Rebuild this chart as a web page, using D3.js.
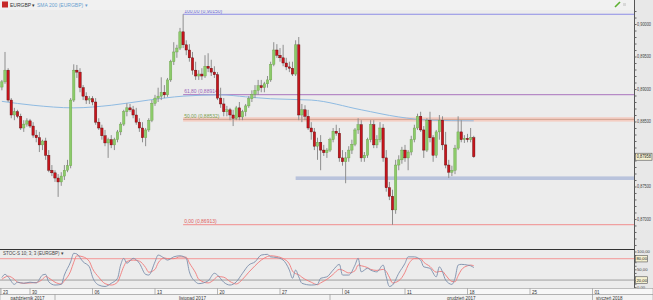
<!DOCTYPE html>
<html>
<head>
<meta charset="utf-8">
<script src="https://cdn.jsdelivr.net/npm/d3@7"></script>
<style>
body { margin: 0; background: #ececec; }
svg { display: block; font-family: "Liberation Sans", Arial, sans-serif; }
</style>
</head>
<body>
<div class="container"></div>
<script>
// EURGBP candles [open, high, low, close]
const candles = [
  [0.8903,0.8914,0.8898,0.8911],[0.8911,0.8957,0.8908,0.8929],[0.8929,0.8932,0.8880,0.8883],[0.8883,0.8886,0.8855,0.8860],
  [0.8860,0.8871,0.8852,0.8865],[0.8865,0.8868,0.8855,0.8858],[0.8858,0.8862,0.8837,0.8840],[0.8840,0.8852,0.8834,0.8846],
  [0.8846,0.8855,0.8842,0.8851],[0.8851,0.8854,0.8840,0.8843],[0.8843,0.8849,0.8825,0.8829],[0.8829,0.8837,0.8818,0.8825],
  [0.8825,0.8834,0.8803,0.8814],[0.8814,0.8822,0.8806,0.8820],[0.8820,0.8825,0.8791,0.8798],[0.8798,0.8806,0.8772,0.8775],
  [0.8775,0.8783,0.8766,0.8771],[0.8771,0.8775,0.8757,0.8763],[0.8763,0.8769,0.8734,0.8757],[0.8757,0.8772,0.8751,0.8766],
  [0.8766,0.8783,0.8760,0.8775],[0.8775,0.8791,0.8772,0.8782],[0.8782,0.8886,0.8778,0.8883],[0.8883,0.8938,0.8880,0.8929],
  [0.8929,0.8937,0.8917,0.8926],[0.8926,0.8932,0.8895,0.8902],[0.8902,0.8906,0.8883,0.8889],[0.8889,0.8895,0.8877,0.8883],
  [0.8883,0.8889,0.8877,0.8885],[0.8885,0.8889,0.8875,0.8880],[0.8880,0.8886,0.8845,0.8849],[0.8849,0.8855,0.8837,0.8840],
  [0.8840,0.8845,0.8822,0.8828],[0.8828,0.8837,0.8812,0.8817],[0.8817,0.8825,0.8794,0.8822],[0.8822,0.8829,0.8809,0.8814],
  [0.8814,0.8825,0.8806,0.8822],[0.8822,0.8837,0.8818,0.8834],[0.8834,0.8849,0.8829,0.8846],[0.8846,0.8868,0.8843,0.8865],
  [0.8865,0.8878,0.8858,0.8871],[0.8871,0.8877,0.8865,0.8868],[0.8868,0.8874,0.8855,0.8860],[0.8860,0.8871,0.8845,0.8849],
  [0.8849,0.8855,0.8834,0.8840],[0.8840,0.8849,0.8818,0.8825],[0.8825,0.8840,0.8812,0.8837],[0.8837,0.8855,0.8834,0.8852],
  [0.8852,0.8883,0.8849,0.8878],[0.8878,0.8891,0.8874,0.8886],[0.8886,0.8902,0.8880,0.8889],[0.8889,0.8918,0.8883,0.8895],
  [0.8895,0.8906,0.8886,0.8891],[0.8891,0.8917,0.8888,0.8914],[0.8914,0.8945,0.8911,0.8942],[0.8942,0.8972,0.8937,0.8957],
  [0.8957,0.8968,0.8948,0.8963],[0.8963,0.8994,0.8960,0.8988],[0.8988,0.9015,0.8963,0.8968],[0.8968,0.8975,0.8952,0.8960],
  [0.8960,0.8969,0.8942,0.8948],[0.8948,0.8957,0.8922,0.8929],[0.8929,0.8942,0.8914,0.8920],[0.8920,0.8929,0.8914,0.8923],
  [0.8923,0.8932,0.8914,0.8920],[0.8920,0.8952,0.8917,0.8935],[0.8935,0.8955,0.8926,0.8932],[0.8932,0.8945,0.8920,0.8926],
  [0.8926,0.8935,0.8917,0.8922],[0.8922,0.8926,0.8883,0.8886],[0.8886,0.8902,0.8871,0.8877],[0.8877,0.8886,0.8858,0.8865],
  [0.8865,0.8874,0.8858,0.8868],[0.8868,0.8871,0.8852,0.8860],[0.8860,0.8868,0.8843,0.8855],[0.8855,0.8874,0.8852,0.8871],
  [0.8871,0.8880,0.8852,0.8857],[0.8857,0.8868,0.8852,0.8865],[0.8865,0.8877,0.8858,0.8874],[0.8874,0.8889,0.8871,0.8885],
  [0.8885,0.8898,0.8880,0.8892],[0.8892,0.8906,0.8886,0.8898],[0.8898,0.8914,0.8891,0.8905],[0.8905,0.8914,0.8895,0.8902],
  [0.8902,0.8911,0.8895,0.8908],[0.8908,0.8920,0.8902,0.8914],[0.8914,0.8942,0.8911,0.8938],[0.8938,0.8972,0.8935,0.8960],
  [0.8960,0.8969,0.8948,0.8952],[0.8952,0.8963,0.8942,0.8948],[0.8948,0.8968,0.8935,0.8940],[0.8940,0.8948,0.8929,0.8934],
  [0.8934,0.8942,0.8926,0.8932],[0.8932,0.8942,0.8920,0.8923],[0.8923,0.8975,0.8920,0.8968],[0.8968,0.8980,0.8852,0.8860],
  [0.8860,0.8877,0.8849,0.8868],[0.8868,0.8875,0.8852,0.8858],[0.8858,0.8868,0.8837,0.8840],[0.8840,0.8849,0.8822,0.8834],
  [0.8834,0.8840,0.8806,0.8812],[0.8812,0.8825,0.8791,0.8818],[0.8818,0.8829,0.8775,0.8806],[0.8806,0.8814,0.8797,0.8802],
  [0.8802,0.8809,0.8794,0.8806],[0.8806,0.8825,0.8803,0.8822],[0.8822,0.8840,0.8818,0.8835],[0.8835,0.8845,0.8828,0.8832],
  [0.8832,0.8840,0.8788,0.8794],[0.8794,0.8806,0.8782,0.8788],[0.8788,0.8803,0.8755,0.8794],[0.8794,0.8812,0.8788,0.8806],
  [0.8806,0.8822,0.8800,0.8815],[0.8815,0.8840,0.8812,0.8837],[0.8837,0.8855,0.8831,0.8845],[0.8845,0.8852,0.8788,0.8794],
  [0.8794,0.8803,0.8788,0.8798],[0.8798,0.8825,0.8794,0.8822],[0.8822,0.8852,0.8818,0.8845],[0.8845,0.8852,0.8809,0.8814],
  [0.8814,0.8829,0.8809,0.8822],[0.8822,0.8849,0.8818,0.8840],[0.8840,0.8846,0.8788,0.8794],[0.8794,0.8806,0.8742,0.8748],
  [0.8748,0.8757,0.8729,0.8735],[0.8735,0.8745,0.8691,0.8714],[0.8714,0.8791,0.8708,0.8783],[0.8783,0.8798,0.8775,0.8791],
  [0.8791,0.8811,0.8785,0.8806],[0.8806,0.8814,0.8788,0.8794],[0.8794,0.8806,0.8775,0.8803],[0.8803,0.8828,0.8798,0.8822],
  [0.8822,0.8845,0.8818,0.8840],[0.8840,0.8862,0.8837,0.8858],[0.8858,0.8865,0.8834,0.8837],[0.8837,0.8843,0.8794,0.8806],
  [0.8806,0.8855,0.8803,0.8852],[0.8852,0.8865,0.8818,0.8825],[0.8825,0.8829,0.8788,0.8798],[0.8798,0.8837,0.8794,0.8834],
  [0.8834,0.8860,0.8822,0.8852],[0.8852,0.8858,0.8806,0.8814],[0.8814,0.8834,0.8778,0.8783],[0.8783,0.8791,0.8763,0.8772],
  [0.8772,0.8782,0.8766,0.8775],[0.8775,0.8814,0.8769,0.8809],[0.8809,0.8858,0.8806,0.8834],[0.8834,0.8852,0.8818,0.8822],
  [0.8822,0.8829,0.8817,0.8824],[0.8824,0.8831,0.8818,0.8822],[0.8822,0.8840,0.8818,0.8825],[0.8825,0.8828,0.8794,0.87958]
];
// first bar sits at trading day 2.75 counted from Mon 23 Oct, 4 bars a day
const firstBarDay = 2.75;
const barsPerDay = 4;

// SMA 200 (bar index, price)
const smaIdx = [0, 10, 23, 35, 47, 58, 70, 78, 86, 99, 115, 127, 137, 151];
const smaVal = [0.8881, 0.8875, 0.8871, 0.8875, 0.8883, 0.8889, 0.8891, 0.8888, 0.8885, 0.8883, 0.8868, 0.8857, 0.8852, 0.8851];

// STOC-S 10;3;3 (bar index, %K, %D)
const stochIdx = [0,1,2,4,5,7,9,11,13,14,15,17,19,20,22,23,24,26,28,29,31,33,35,37,38,39,40,42,44,46,47,49,50,52,53,55,57,59,60,62,63,66,68,69,71,73,75,77,79,81,83,85,86,88,90,92,93,94,95,96,99,101,102,104,106,108,109,111,113,114,115,117,118,120,122,123,124,125,127,129,130,132,134,135,137,139,140,141,142,144,145,146,147,149,150,151];
const stochK = [27,36,29,8,14,11,14,12,34,36,15,6,8,34,71,95,93,71,57,29,6,2,11,25,62,81,67,81,67,36,34,71,90,81,76,85,88,81,43,15,10,18,39,34,14,6,15,39,62,71,90,92,85,83,76,48,25,48,29,11,6,8,25,29,48,64,34,34,62,81,43,53,48,43,62,29,2,6,39,67,85,85,76,57,53,29,57,43,20,8,25,62,64,62,60,55];
const stochD = [22,28,31,22,14,11,12,13,22,30,26,14,9,18,45,70,88,85,72,52,28,10,6,14,35,58,72,76,73,55,42,50,68,82,80,80,85,84,68,40,22,12,22,30,28,16,9,22,42,60,76,86,88,86,80,65,45,38,35,28,14,7,12,22,36,50,48,40,46,62,60,55,50,47,50,44,28,12,18,42,62,80,80,70,58,42,44,44,34,16,15,32,48,60,62,60];

// axis labels
const weekDays = [0, 5, 10, 15, 20, 25, 30, 35, 40, 45, 50];
const weekLabels = ['23', '30', '06', '13', '20', '27', '04', '11', '18', '25', '01'];
const monthStart = [0, 7, 29, 50];
const monthLabels = ['październik 2017', 'listopad 2017', 'grudzień 2017', 'styczeń 2018'];
const priceTicks = [0.870, 0.875, 0.885, 0.890, 0.895, 0.900];
const stochTicks = [100, 50, 0];
const stochLevels = [80, 20];

// Fibonacci retracement, anchored at the 58th bar
const fibPct = [100, 61.8, 50, 0];
const fibPrice = [0.90150, 0.88914, 0.88532, 0.86913];
const fibStartBar = 58;
const supportZone = [0.87600, 0.87655];
const supportStartBar = 94;
const lastPrice = 0.87958;

let width = 653;
let height = 300;
let plotRight = 634;

const svg = d3.select('.container')
    .append('svg')
    .attr('width', width)
    .attr('height', height);

const comma = f => v => d3.format(f)(v).replace('.', ',');

let xDay = d3.scaleLinear().domain([0, 50]).range([-32.5, 592.5]);
let xBar = i => xDay(firstBarDay + i / barsPerDay);
let y = d3.scaleLinear().domain([0.86538, 0.90185]).range([249, 12]);
let ys = d3.scaleLinear().domain([0, 100]).range([287.2, 251.5]);

// backgrounds
svg.append('rect').attr('width', width).attr('height', height).attr('fill', '#ececec');
svg.append('rect').attr('width', width).attr('height', 10).attr('fill', '#f1f1f1');
svg.append('rect').attr('x', plotRight).attr('y', 0).attr('width', width - plotRight).attr('height', 288).attr('fill', '#e8e8e8');

svg.append('defs').append('clipPath').attr('id', 'clip')
    .append('rect').attr('x', 0).attr('y', 10).attr('width', plotRight).attr('height', 239);

let g = svg.append('g').attr('clip-path', 'url(#clip)');

// support zone
g.append('rect')
    .attr('x', xBar(supportStartBar))
    .attr('y', y(supportZone[1]))
    .attr('width', plotRight - xBar(supportStartBar))
    .attr('height', y(supportZone[0]) - y(supportZone[1]))
    .attr('fill', '#b9c3dc');

// fib lines
let fx = xBar(fibStartBar);
let fibColor = ['#8c8ce6', '#b68ac6', '#c89a86', '#f0a0a0'];
let fibText = ['#7070d8', '#9a66b8', '#7aa050', '#e06060'];
g.append('rect')
    .attr('x', fx).attr('y', y(fibPrice[2]) - 2.2)
    .attr('width', plotRight - fx).attr('height', 4.4)
    .attr('fill', '#f4cdc2');
fibPrice.forEach((p, k) => {
    g.append('line')
        .attr('x1', fx).attr('x2', plotRight)
        .attr('y1', y(p)).attr('y2', y(p))
        .attr('stroke', fibColor[k])
        .attr('stroke-width', k === 2 ? 0.8 : 1.2);
    g.append('text')
        .attr('x', fx + 1).attr('y', y(p) - 1.5)
        .attr('font-size', 5).attr('fill', fibText[k])
        .text(comma('.2f')(fibPct[k]) + ' (' + comma('.5f')(p) + ')');
});

// SMA 200
g.append('path')
    .datum(smaIdx.map((d, k) => [d, smaVal[k]]))
    .attr('fill', 'none')
    .attr('stroke', '#8fbbe2')
    .attr('stroke-width', 1)
    .attr('d', d3.line().x(d => xBar(d[0])).y(d => y(d[1])).curve(d3.curveMonotoneX));

// candles
let bars = g.selectAll('.candle')
    .data(candles)
    .enter().append('g')
    .attr('class', 'candle');

bars.append('line')
    .attr('x1', (d, i) => xBar(i)).attr('x2', (d, i) => xBar(i))
    .attr('y1', d => y(d[1])).attr('y2', d => y(d[2]))
    .attr('stroke', '#8e8e8e')
    .attr('stroke-width', 1);

bars.append('rect')
    .attr('x', (d, i) => xBar(i) - 1.2)
    .attr('width', 2.4)
    .attr('y', d => y(Math.max(d[0], d[3])))
    .attr('height', d => Math.max(0.8, Math.abs(y(d[0]) - y(d[3]))))
    .attr('fill', d => d[3] >= d[0] ? '#8ccb6a' : '#c8141c')
    .attr('stroke', d => d[3] >= d[0] ? '#6aa048' : '#5a0a0a')
    .attr('stroke-width', 0.4);

// price axis
svg.append('line')
    .attr('x1', plotRight + 0.5).attr('x2', plotRight + 0.5)
    .attr('y1', 0).attr('y2', 288)
    .attr('stroke', '#555');
let yAxis = d3.axisRight(y)
    .tickValues(d3.range(0.866, 0.9025, 0.001))
    .tickSize(2)
    .tickFormat('');
svg.append('g')
    .attr('transform', 'translate(' + (plotRight + 0.5) + ',0)')
    .call(yAxis)
    .call(a => a.select('.domain').remove())
    .call(a => a.selectAll('line').attr('stroke', '#666'));
svg.selectAll('.plabel')
    .data(priceTicks)
    .enter().append('text')
    .attr('x', plotRight + 3).attr('y', d => y(d) + 1.6)
    .attr('font-size', 4.5).attr('fill', '#444')
    .attr('textLength', 14).attr('lengthAdjust', 'spacingAndGlyphs')
    .text(d => comma('.5f')(d));

// last price box
svg.append('rect')
    .attr('x', plotRight + 1.5).attr('y', y(lastPrice) - 3.5)
    .attr('width', 16.5).attr('height', 7)
    .attr('fill', '#f5f1d2').attr('stroke', '#555').attr('stroke-width', 0.6);
svg.append('text')
    .attr('x', plotRight + 2.8).attr('y', y(lastPrice) + 1.6)
    .attr('font-size', 4.5).attr('fill', '#222')
    .attr('textLength', 14).attr('lengthAdjust', 'spacingAndGlyphs')
    .text(comma('.5f')(lastPrice));

// header
svg.append('rect').attr('x', 2).attr('y', 1.5).attr('width', 6).attr('height', 6).attr('fill', '#c62828');
svg.append('text').attr('x', 10).attr('y', 6.5).attr('font-size', 5).attr('fill', '#333').text('EURGBP ▾');
svg.append('text').attr('x', 37).attr('y', 6.5).attr('font-size', 5).attr('fill', '#6a9fd0').text('SMA 200 (EURGBP) ▾');
svg.append('path').attr('d', 'M615,7 L620,2').attr('stroke', '#5cb030').attr('stroke-width', 1.6);
svg.append('rect').attr('x', 623).attr('y', 3).attr('width', 3).attr('height', 3).attr('fill', '#d8d8d8');

// stochastic panel
svg.append('line')
    .attr('x1', 0).attr('x2', plotRight + 0.5)
    .attr('y1', 249.5).attr('y2', 249.5)
    .attr('stroke', '#333');
stochLevels.forEach((v, k) => {
    svg.append('line')
        .attr('x1', 0).attr('x2', plotRight)
        .attr('y1', ys(v)).attr('y2', ys(v))
        .attr('stroke', k === 0 ? '#f2a8a8' : '#8a8a8a')
        .attr('stroke-width', k === 0 ? 1.3 : 0.8);
});
svg.append('text').attr('x', 3).attr('y', 255).attr('font-size', 4.5).attr('fill', '#444')
    .text('STOC-S 10; 3; 3 (EURGBP) ▾');

let sline = () => d3.line()
    .x((d, k) => xBar(stochIdx[k]))
    .y(d => ys(d))
    .curve(d3.curveMonotoneX);
svg.append('path').datum(stochD)
    .attr('fill', 'none').attr('stroke', '#f07a7a').attr('stroke-width', 0.9)
    .attr('d', sline());
svg.append('path').datum(stochK)
    .attr('fill', 'none').attr('stroke', '#7c8fac').attr('stroke-width', 0.9)
    .attr('d', sline());

// stochastic axis
let ysAxis = d3.axisRight(ys).tickValues(d3.range(0, 101, 10)).tickSize(2).tickFormat('');
svg.append('g')
    .attr('transform', 'translate(' + (plotRight + 0.5) + ',0)')
    .call(ysAxis)
    .call(a => a.select('.domain').remove())
    .call(a => a.selectAll('line').attr('stroke', '#666'));
svg.selectAll('.slabel')
    .data(stochTicks)
    .enter().append('text')
    .attr('x', plotRight + 3).attr('y', d => ys(d) + 1.6)
    .attr('font-size', 4.2).attr('fill', '#444')
    .text(d => comma('.2f')(d));
stochLevels.forEach(v => {
    svg.append('rect')
        .attr('x', plotRight + 1.5).attr('y', ys(v) - 3.3)
        .attr('width', 12).attr('height', 6.6)
        .attr('fill', '#f5f1d2').attr('stroke', '#555').attr('stroke-width', 0.6);
    svg.append('text')
        .attr('x', plotRight + 2.5).attr('y', ys(v) + 1.6)
        .attr('font-size', 4.2).attr('fill', '#222')
        .text(comma('.2f')(v));
});

// date axis
svg.append('rect').attr('x', 0).attr('y', 288.5).attr('width', width).attr('height', 6)
    .attr('fill', '#f7f7f7').attr('stroke', '#999').attr('stroke-width', 0.6);
svg.append('rect').attr('x', 0).attr('y', 294.5).attr('width', width).attr('height', 6)
    .attr('fill', '#f3f3f3').attr('stroke', '#999').attr('stroke-width', 0.6);

weekDays.forEach((d, k) => {
    let x = Math.max(1, xDay(d));
    svg.append('line')
        .attr('x1', x).attr('x2', x).attr('y1', 288.5).attr('y2', 294.5)
        .attr('stroke', '#888').attr('stroke-width', 0.6);
    svg.append('text')
        .attr('x', Math.max(3, xDay(d) + 2)).attr('y', 293.5)
        .attr('font-size', 4.5).attr('fill', '#333')
        .text(weekLabels[k]);
});

monthStart.forEach((d, k) => {
    let x0 = Math.max(0, xDay(d));
    let x1 = k < monthStart.length - 1 ? xDay(monthStart[k + 1]) : 626;
    if (k > 0) {
        svg.append('line')
            .attr('x1', x0).attr('x2', x0).attr('y1', 294.5).attr('y2', 300)
            .attr('stroke', '#888').attr('stroke-width', 0.6);
    }
    svg.append('text')
        .attr('x', (x0 + x1) / 2).attr('y', 299.5)
        .attr('text-anchor', 'middle')
        .attr('font-size', 4.5).attr('fill', '#333')
        .text(monthLabels[k]);
});
</script>
</body>
</html>
